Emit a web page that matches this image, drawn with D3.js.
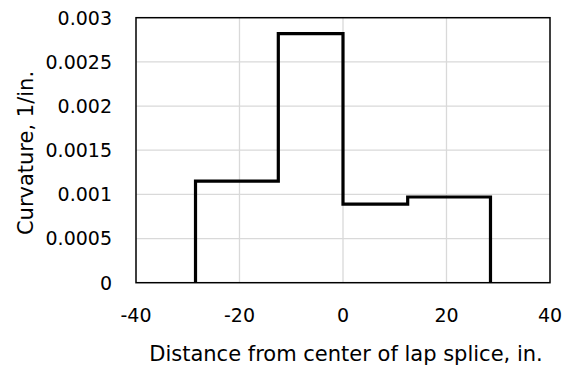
<!DOCTYPE html>
<html><head><meta charset="utf-8">
<script src="https://cdn.jsdelivr.net/npm/d3@7/dist/d3.min.js"></script>
<style>body{margin:0;background:#fff}svg{display:block}</style>
</head><body>
<svg id="c" width="569" height="368"></svg>
<script>
const stepX = [-28.5, -28.5, -12.5, -12.5, 0, 0, 12.5, 12.5, 28.5, 28.5];
const stepY = [0, 0.00115, 0.00115, 0.00282, 0.00282, 0.00089, 0.00089, 0.00097, 0.00097, 0];
const xTicks = [-40, -20, 0, 20, 40];
const yTicks = [0, 0.0005, 0.001, 0.0015, 0.002, 0.0025, 0.003];
const xTitle = "Distance from center of lap splice, in.";
const yTitle = "Curvature, 1/in.";

const svg = d3.select("#c");
const L = 136, R = 550, T = 17.7, B = 282.7;
const x = d3.scaleLinear().domain([-40, 40]).range([L, R]);
const y = d3.scaleLinear().domain([0, 0.003]).range([B, T]);
const font = "'DejaVu Sans', sans-serif";
const fs = 19, fsTitle = 21;

// gridlines
svg.append("g").selectAll("line.h").data(yTicks.slice(1, -1)).join("line")
  .attr("x1", L).attr("x2", R).attr("y1", d => y(d)).attr("y2", d => y(d))
  .attr("stroke", "#d9d9d9").attr("stroke-width", 1.3);
svg.append("g").selectAll("line.v").data(xTicks.slice(1, -1)).join("line")
  .attr("y1", T).attr("y2", B).attr("x1", d => x(d)).attr("x2", d => x(d))
  .attr("stroke", "#d9d9d9").attr("stroke-width", 1.3);

// plot frame
svg.append("rect").attr("x", L).attr("y", T).attr("width", R - L).attr("height", B - T)
  .attr("fill", "none").attr("stroke", "#000").attr("stroke-width", 1.5);

// step line
const pts = stepX.map((v, i) => [v, stepY[i]]);
svg.append("path").datum(pts)
  .attr("d", d3.line().x(d => x(d[0])).y(d => y(d[1])))
  .attr("fill", "none").attr("stroke", "#000").attr("stroke-width", 3.2)
  .attr("stroke-linejoin", "miter").attr("stroke-linecap", "butt");

// tick labels
const fmtY = d => d === 0 ? "0" : String(+d.toFixed(4));
svg.append("g").selectAll("text").data(yTicks).join("text")
  .attr("x", 112).attr("y", d => y(d)).attr("dy", "0.36em")
  .attr("text-anchor", "end").attr("font-family", font).attr("font-size", fs)
  .attr("fill", "#000").text(fmtY);
svg.append("g").selectAll("text").data(xTicks).join("text")
  .attr("x", d => x(d)).attr("y", 321.5)
  .attr("text-anchor", "middle").attr("font-family", font).attr("font-size", fs)
  .attr("fill", "#000").text(d => d);

// axis titles
svg.append("text").attr("x", 346).attr("y", 360.5)
  .attr("text-anchor", "middle").attr("font-family", font).attr("font-size", fsTitle)
  .attr("fill", "#000").text(xTitle);
svg.append("text").attr("transform", "translate(33,153) rotate(-90)")
  .attr("text-anchor", "middle").attr("font-family", font).attr("font-size", fsTitle)
  .attr("fill", "#000").text(yTitle);
</script>
</body></html>
